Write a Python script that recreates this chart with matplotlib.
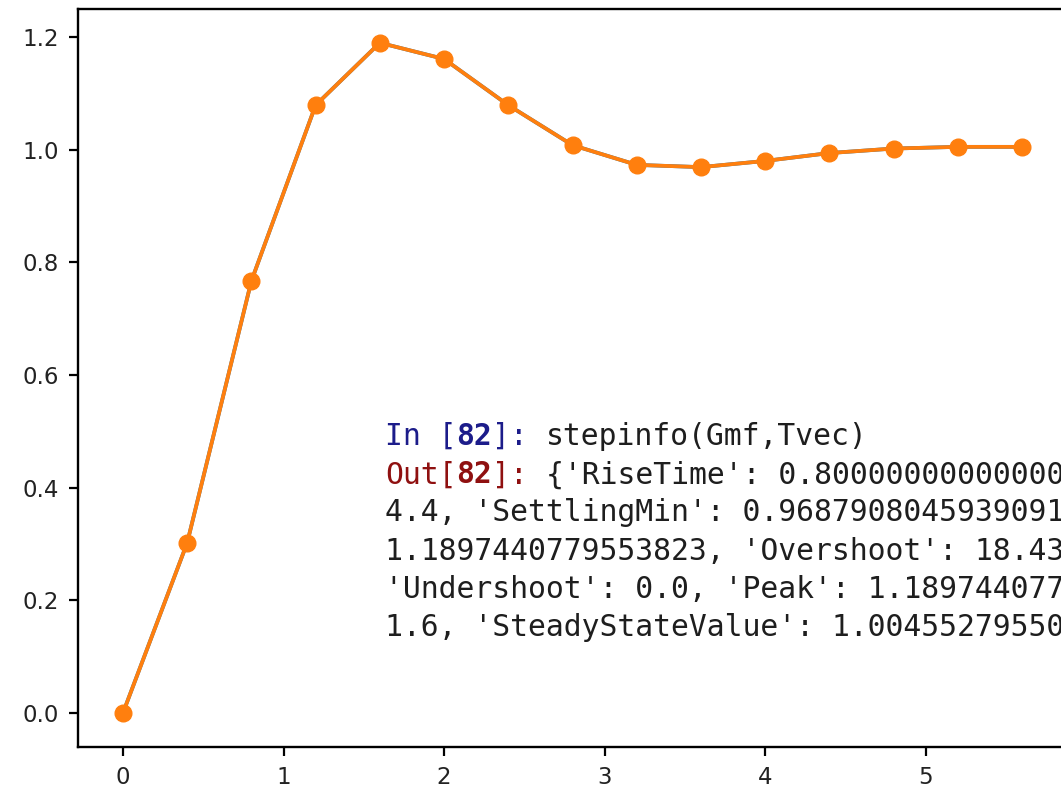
import matplotlib
matplotlib.use("Agg")
import matplotlib.pyplot as plt

# Data
t_vec = [0.0, 0.4, 0.8, 1.2, 1.6, 2.0, 2.4, 2.8, 3.2, 3.6, 4.0, 4.4, 4.8, 5.2, 5.6]
y_resp = [0.0, 0.302, 0.767, 1.079, 1.1897, 1.161, 1.079, 1.008, 0.973, 0.969,
          0.980, 0.994, 1.002, 1.005, 1.005]
x_ticks = [0, 1, 2, 3, 4, 5]
y_ticks = [0.0, 0.2, 0.4, 0.6, 0.8, 1.0, 1.2]

# Console overlay text: list of lines, each a list of (text, color, bold)
NAVY = "#1c1c8a"
DRED = "#8f1010"
TXT = "#1e1e1e"
console_lines = [
    [("In [", NAVY, False), ("82", NAVY, True), ("]: ", NAVY, False), ("stepinfo(Gmf,Tvec)", TXT, False)],
    [("Out[", DRED, False), ("82", DRED, True), ("]: ", DRED, False), ("{'RiseTime': 0.8000000000000000000", TXT, False)],
    [("4.4, 'SettlingMin': 0.96879080459390913", TXT, False)],
    [("1.1897440779553823, 'Overshoot': 18.4353", TXT, False)],
    [("'Undershoot': 0.0, 'Peak': 1.18974407795", TXT, False)],
    [("1.6, 'SteadyStateValue': 1.00455279550812", TXT, False)],
]

W, H, DPI = 1061, 790, 100
fig = plt.figure(figsize=(W / DPI, H / DPI), dpi=DPI)
ax = fig.add_axes([78 / W, 43.5 / H, (1067 - 78) / W, (746.5 - 9.3) / H])

ax.plot(t_vec, y_resp, color="C0", linewidth=2.7)
ax.plot(t_vec, y_resp, color="C1", linewidth=2.7, marker="o", markersize=12)

ax.set_xticks(x_ticks)
ax.set_xticklabels([str(v) for v in x_ticks], fontsize=16.5, color="#222222")
ax.set_yticks(y_ticks)
ax.set_yticklabels([f"{v:.1f}" for v in y_ticks], fontsize=16.5, color="#222222")
ax.tick_params(axis="both", which="major", length=6.5, width=1.6, pad=7.5)
for sp in ax.spines.values():
    sp.set_linewidth(1.7)

# Console text
fs_pt = 21.4
fs_px = fs_pt * DPI / 72
adv_px = 0.602 * fs_px
x0_px, base0_px, dy_px = 385, 445, 38.2
for i, line in enumerate(console_lines):
    n = 0
    for seg, col, bold in line:
        fig.text((x0_px + n * adv_px) / W, 1 - (base0_px + i * dy_px) / H, seg,
                 family="DejaVu Sans Mono", fontsize=fs_pt, color=col,
                 fontweight="bold" if bold else "normal", va="baseline", ha="left")
        n += len(seg)

fig.savefig("out.png", dpi=DPI)
